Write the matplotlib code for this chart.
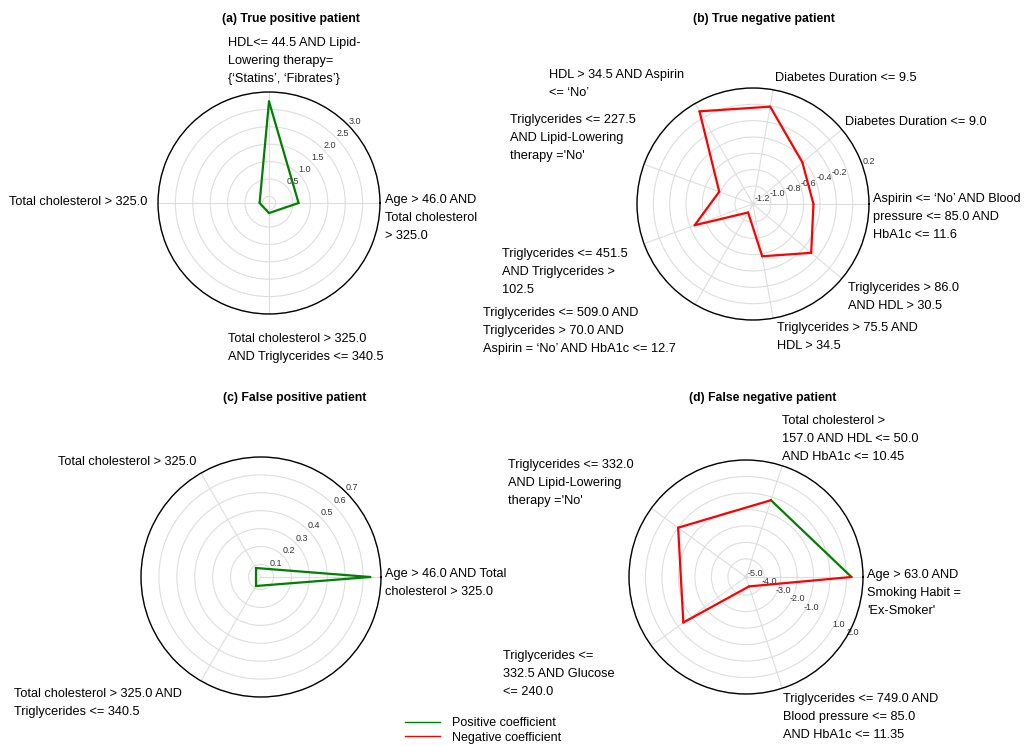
import numpy as np
import matplotlib.pyplot as plt
from matplotlib.lines import Line2D

W, H = 1025, 746
POS_COLOR = "green"
NEG_COLOR = "red"
FONT = "Liberation Sans"

# (a) True positive patient
a_rules = [
    "Age > 46.0 AND\nTotal cholesterol\n> 325.0",
    "HDL<= 44.5 AND Lipid-\nLowering therapy=\n{‘Statins’, ‘Fibrates’}",
    "Total cholesterol > 325.0",
    "Total cholesterol > 325.0\nAND Triglycerides <= 340.5",
]
a_values = [0.66, 2.73, 0.08, 0.10]
a_positive = [True, True, True, True]
a_rticks = [0.0, 0.5, 1.0, 1.5, 2.0, 2.5, 3.0]

# (b) True negative patient
b_rules = [
    "Aspirin <= ‘No’ AND Blood\npressure <= 85.0 AND\nHbA1c <= 11.6",
    "Diabetes Duration <= 9.0",
    "Diabetes Duration <= 9.5",
    "HDL > 34.5 AND Aspirin\n<= ‘No’",
    "Triglycerides <= 227.5\nAND Lipid-Lowering\ntherapy ='No'",
    "Triglycerides <= 451.5\nAND Triglycerides >\n102.5",
    "Triglycerides <= 509.0 AND\nTriglycerides > 70.0 AND\nAspirin = ‘No’ AND HbA1c <= 12.7",
    "Triglycerides > 75.5 AND\nHDL > 34.5",
    "Triglycerides > 86.0\nAND HDL > 30.5",
]
b_values = [-0.48, -0.43, -0.01, 0.09, -0.78, -0.46, -1.10, -0.57, -0.29]
b_positive = [False] * 9
b_rticks = [-1.2, -1.0, -0.8, -0.6, -0.4, -0.2, 0.0, 0.2]

# (c) False positive patient
c_rules = [
    "Age > 46.0 AND Total\ncholesterol > 325.0",
    "Total cholesterol > 325.0",
    "Total cholesterol > 325.0 AND\nTriglycerides <= 340.5",
]
c_values = [0.64, 0.088, 0.088]
c_positive = [True, True, True]
c_rticks = [0.1, 0.2, 0.3, 0.4, 0.5, 0.6, 0.7]

# (d) False negative patient
d_rules = [
    "Age > 63.0 AND\nSmoking Habit =\n'Ex-Smoker'",
    "Total cholesterol >\n157.0 AND HDL <= 50.0\nAND HbA1c <= 10.45",
    "Triglycerides <= 332.0\nAND Lipid-Lowering\ntherapy ='No'",
    "Triglycerides <=\n332.5 AND Glucose\n<= 240.0",
    "Triglycerides <= 749.0 AND\nBlood pressure <= 85.0\nAND HbA1c <= 11.35",
]
d_values = [1.30, -0.20, -0.01, -0.40, -4.50]
d_positive = [True, False, False, False, False]
d_rticks = [-5.0, -4.0, -3.0, -2.0, -1.0, 0.0, 1.0, 2.0]


def radar(cx, cy, R, rules, values, positive, rticks, rlim, rlabel_pos,
          title, title_xy, label_xy):
    ax = fig.add_axes([(cx - R) / W, 1 - (cy + R) / H, 2 * R / W, 2 * R / H],
                      projection="polar")
    n = len(values)
    theta = np.linspace(0, 2 * np.pi, n, endpoint=False)
    # one segment per rule, coloured by the sign of its coefficient
    for i in range(n):
        j = (i + 1) % n
        ax.plot([theta[i], theta[j]], [values[i], values[j]],
                color=POS_COLOR if positive[i] else NEG_COLOR, lw=1.6,
                solid_capstyle="round")
    ax.set_ylim(*rlim)
    ax.set_xticks(theta)
    ax.set_xticklabels([])
    ax.set_yticks(rticks)
    ax.set_yticklabels(["" if t == 0 else f"{t:.1f}" for t in rticks],
                       fontsize=6.5, color="#333333", family=FONT)
    ax.set_rlabel_position(rlabel_pos)
    ax.grid(color="#dedede", lw=0.8)
    ax.spines["polar"].set_color("black")
    ax.spines["polar"].set_linewidth(1.0)
    fig.text(title_xy[0] / W, 1 - title_xy[1] / H, title, ha="left", va="center",
             fontsize=8.8, fontweight="bold", family=FONT)
    for rule, (x, y) in zip(rules, label_xy):
        fig.text(x / W, 1 - y / H, rule, ha="left", va="top", fontsize=9.2,
                 linespacing=1.65, family=FONT)
    return ax


fig = plt.figure(figsize=(W / 100, H / 100), dpi=100)

radar(269, 203, 111, a_rules, a_values, a_positive, a_rticks, (-0.19, 3.0), 44,
      "(a) True positive patient", (222, 19),
      [(385, 194), (228, 37), (9, 196), (228, 333)])

radar(753, 204, 116, b_rules, b_values, b_positive, b_rticks, (-1.22, 0.2), 19,
      "(b) True negative patient", (693, 19),
      [(873, 193), (845, 116), (775, 72), (549, 69), (510, 114), (502, 248),
       (483, 307), (777, 322), (848, 282)])

radar(261, 577, 120, c_rules, c_values, c_positive, c_rticks, (0.03, 0.7), 45,
      "(c) False positive patient", (223, 398),
      [(385, 568), (58, 456), (14, 688)])

radar(746, 577, 117, d_rules, d_values, d_positive, d_rticks, (-5.1, 2.0), -31,
      "(d) False negative patient", (689, 398),
      [(867, 569), (782, 415), (508, 459), (503, 650), (783, 693)])

handles = [Line2D([], [], color=POS_COLOR, lw=1.0), Line2D([], [], color=NEG_COLOR, lw=1.0)]
fig.legend(handles, ["Positive coefficient", "Negative coefficient"],
           loc="upper left", bbox_to_anchor=(405 / W, 1 - 717 / H), frameon=False,
           prop={"family": FONT, "size": 9}, handlelength=2.8, handletextpad=1.0,
           labelspacing=0.2, borderpad=0, borderaxespad=0)

fig.savefig("out.png", dpi=100)
